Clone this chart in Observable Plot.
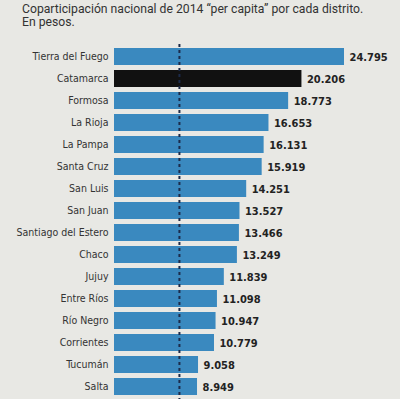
<!DOCTYPE html>
<html>
<head>
<meta charset="utf-8">
<script src="https://cdn.jsdelivr.net/npm/d3@7"></script>
<script src="https://cdn.jsdelivr.net/npm/@observablehq/plot@0.6"></script>
<style>
  html, body { margin: 0; padding: 0; background: #e8e8e4; overflow: hidden; width: 400px; height: 399px; }
  #title { box-sizing: border-box; height: 34px; padding: 3px 0 0 22px; font-family: Roboto, "Liberation Sans", sans-serif; font-size: 12.2px; line-height: 13px; color: #333; }
  #chart svg { display: block; }
</style>
</head>
<body>
<div id="title">Coparticipación nacional de 2014 “per capita” por cada distrito.<br>En pesos.</div>
<div id="chart"></div>
<script>
const districts = ["Tierra del Fuego", "Catamarca", "Formosa", "La Rioja", "La Pampa", "Santa Cruz", "San Luis", "San Juan", "Santiago del Estero", "Chaco", "Jujuy", "Entre Ríos", "Río Negro", "Corrientes", "Tucumán", "Salta"];
const perCapita = [24795, 20206, 18773, 16653, 16131, 15919, 14251, 13527, 13466, 13249, 11839, 11098, 10947, 10779, 9058, 8949];
const highlighted = ["Catamarca"];
const referenceValue = 7000;

const data = districts.map((d, i) => ({district: d, value: perCapita[i], hi: highlighted.includes(d)}));
const fmt = d3.formatLocale({decimal: ",", thousands: ".", grouping: [3], currency: ["$", ""]}).format(",");

const chart = Plot.plot({
  width: 400,
  height: 367,
  marginTop: 7,
  marginBottom: 0,
  marginLeft: 114,
  marginRight: 0,
  style: {background: "transparent", fontFamily: "'DejaVu Sans Condensed', 'Liberation Sans Narrow', sans-serif", fontSize: "10.5px", color: "#333"},
  x: {domain: [0, d3.max(perCapita)], range: [114, 344], axis: null},
  y: {domain: districts, paddingInner: 0.25, paddingOuter: 0.125, label: null, tickSize: 0, tickPadding: 6},
  marks: [
    Plot.barX(data, {y: "district", x: "value", fill: d => d.hi ? "#111111" : "#3a89bf"}),
    Plot.ruleX([referenceValue], {stroke: "#1c2b4a", strokeWidth: 2, strokeDasharray: "3,3", insetTop: 3}),
    Plot.text(data, {y: "district", x: "value", text: d => fmt(d.value), dx: 5, textAnchor: "start", fontWeight: "bold", fontSize: 11, fill: "#222"})
  ]
});
document.getElementById("chart").appendChild(chart);
</script>
</body>
</html>
